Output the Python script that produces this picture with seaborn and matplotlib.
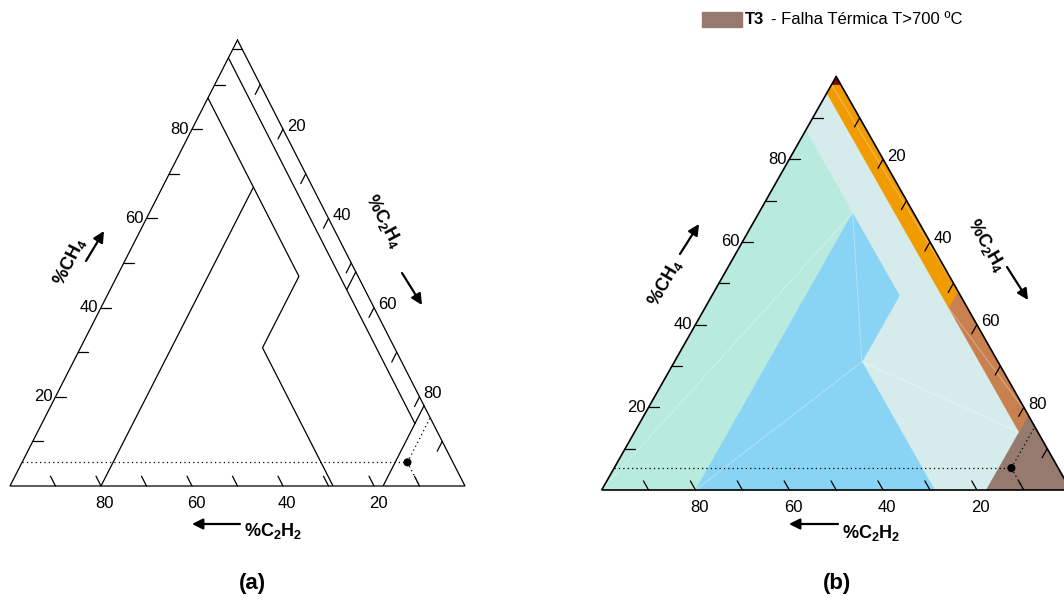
import matplotlib
matplotlib.use("Agg")
import matplotlib.pyplot as plt
import seaborn as sns
from matplotlib.patches import Rectangle

# ---------------- data (ternary %, order: CH4, C2H4, C2H2) ----------------
tick_values = [10, 20, 30, 40, 50, 60, 70, 80, 90]
label_values = [20, 40, 60, 80]

zone_PD = [(100, 0, 0), (98, 2, 0), (98, 0, 2)]
zone_T12 = [(98, 2, 0), (98, 0, 2), (96, 0, 4), (44, 52, 4), (48, 52, 0)]
zone_T3b = [(48, 52, 0), (44, 52, 4), (14, 82, 4), (18, 82, 0)]
zone_T3 = [(18, 82, 0), (0, 82, 18), (0, 100, 0)]
zone_D1 = [(0, 0, 100), (87, 0, 13), (67, 20, 13), (0, 20, 80)]
zone_D2 = [(0, 20, 80), (67, 20, 13), (47, 40, 13), (31, 40, 29), (0, 71, 29)]
zone_DT = [(96, 0, 4), (87, 0, 13), (47, 40, 13), (31, 40, 29), (0, 71, 29),
           (0, 82, 18), (14, 82, 4), (44, 52, 4)]

zone_colors = {"DT": "#D6ECEC", "D1": "#B8EADE", "D2": "#89D3F5",
               "T12": "#F09B00", "T3b": "#C8804F", "T3": "#967A6D", "PD": "#7A0A0A"}

boundary_lines = [
    [(98, 2, 0), (98, 0, 2)],
    [(96, 0, 4), (14, 82, 4)],
    [(48, 52, 0), (44, 52, 4)],
    [(18, 82, 0), (0, 82, 18)],
    [(87, 0, 13), (47, 40, 13), (31, 40, 29), (0, 71, 29)],
    [(67, 20, 13), (0, 20, 80)],
]

seams = [
    [(0, 0, 100), (67, 20, 13)],
    [(0, 20, 80), (31, 40, 29)],
    [(67, 20, 13), (31, 40, 29)],
    [(31, 40, 29), (14, 82, 4)],
    [(98, 0, 2), (48, 52, 0)],
    [(44, 52, 4), (18, 82, 0)],
]

sample_ch4 = 5.3
sample_c2h4 = 84.7
sample_c2h2 = 10.0

legend_label_bold = "T3"
legend_label_rest = "- Falha Térmica T>700 ºC"


# ---------------- helpers ----------------
def tern(pts):
    xs = [b + a / 2.0 for a, b, c in pts]
    ys = [a for a, b, c in pts]
    return xs, ys


def fpx(x, y):
    """reference pixel (top-left origin) -> figure fraction"""
    return (x / 1064.0, 1.0 - y / 601.0)


sns.set_theme(style="white")
plt.rcParams["font.family"] = ["Liberation Sans", "DejaVu Sans"]
plt.rcParams["mathtext.fontset"] = "custom"
plt.rcParams["mathtext.rm"] = "Liberation Sans"
plt.rcParams["mathtext.bf"] = "Liberation Sans:bold"
plt.rcParams["mathtext.it"] = "Liberation Sans:italic"
plt.rcParams["text.color"] = "black"

fig = plt.figure(figsize=(10.64, 6.01), dpi=100)
fig.patch.set_facecolor("white")

ax_a = fig.add_axes([10 / 1064, (601 - 486) / 601, 455 / 1064, 446 / 601])
ax_b = fig.add_axes([601.7 / 1064, (601 - 490) / 601, 469 / 1064, 413.5 / 601])

delta = 2.2
outline = [(100, 0, 0), (0, 0, 100), (0, 100, 0), (100, 0, 0)]
tick_fs = 12


def draw_frame(ax, lw_edge):
    ax.set_xlim(0, 100)
    ax.set_ylim(0, 100)
    ax.axis("off")
    x, y = tern(outline)
    ax.plot(x, y, color="black", lw=lw_edge, zorder=4, clip_on=False,
            solid_joinstyle="miter")
    for v in tick_values:
        for seg in ([(v, 0, 100 - v), (v, delta, 100 - v - delta)],
                    [(100 - v, v, 0), (100 - v - delta, v, delta)],
                    [(0, 100 - v, v), (delta, 100 - v - delta, v)]):
            sx, sy = tern(seg)
            ax.plot(sx, sy, color="black", lw=0.9, zorder=4, clip_on=False)
    for v in label_values:
        x, y = tern([(v, 0, 100 - v)])
        ax.annotate(str(v), (x[0], y[0]), xytext=(-3, 0), textcoords="offset pixels",
                    ha="right", va="center", fontsize=tick_fs, color="black",
                    annotation_clip=False)
        x, y = tern([(100 - v, v, 0)])
        ax.annotate(str(v), (x[0], y[0]), xytext=(4, 3), textcoords="offset pixels",
                    ha="left", va="center", fontsize=tick_fs, color="black",
                    annotation_clip=False)
        x, y = tern([(0, 100 - v, v)])
        ax.annotate(str(v), (x[0], y[0]), xytext=(4, -17), textcoords="offset pixels",
                    ha="center", va="center", fontsize=tick_fs, color="black",
                    annotation_clip=False)


def draw_sample(ax):
    p = (sample_ch4, sample_c2h4, sample_c2h2)
    guides = [
        [(sample_ch4, 0, 100 - sample_ch4), p],
        [p, (100 - sample_c2h4, sample_c2h4, 0)],
        [p, (0, 100 - sample_c2h2, sample_c2h2)],
    ]
    for g in guides:
        gx, gy = tern(g)
        ax.plot(gx, gy, color="black", lw=0.9, ls=(0, (1, 2.5)), zorder=5)
    px, py = tern([p])
    sns.scatterplot(x=px, y=py, ax=ax, color="black", s=34, edgecolor="none",
                    zorder=6, legend=False)
    ax.set_xlabel("")
    ax.set_ylabel("")


# ---------------- panel (a): line drawing ----------------
draw_frame(ax_a, 0.9)
for ln in boundary_lines:
    lx, ly = tern(ln)
    ax_a.plot(lx, ly, color="black", lw=0.9, zorder=3)
draw_sample(ax_a)
ax_a.axis("off")

# ---------------- panel (b): coloured zones ----------------
zones = [("DT", zone_DT), ("D1", zone_D1), ("D2", zone_D2), ("T12", zone_T12),
         ("T3b", zone_T3b), ("T3", zone_T3), ("PD", zone_PD)]
for name, poly in zones:
    zx, zy = tern(poly)
    ax_b.fill(zx, zy, color=zone_colors[name], lw=0.3, ec=zone_colors[name], zorder=1)
for s in seams:
    sx, sy = tern(s)
    ax_b.plot(sx, sy, color="white", lw=0.7, alpha=0.35, zorder=2)
draw_frame(ax_b, 1.2)
draw_sample(ax_b)
ax_b.axis("off")

# ---------------- axis titles with arrows ----------------
arrow_kw = dict(arrowstyle="-|>", lw=1.6, color="black", mutation_scale=16,
                shrinkA=0, shrinkB=0)
title_fs = 13


def titles(ch4_xy, ch4_rot, ch4_arrow, c2h4_xy, c2h4_rot, c2h4_arrow,
           c2h2_xy, c2h2_arrow, panel_xy, panel_txt):
    fig.text(*fpx(*ch4_xy), "%CH$_\\mathbf{4}$", rotation=ch4_rot, ha="center",
             va="center", fontsize=title_fs, fontweight="bold", rotation_mode="anchor")
    fig.text(*fpx(*c2h4_xy), "%C$_\\mathbf{2}$H$_\\mathbf{4}$", rotation=c2h4_rot,
             ha="center", va="center", fontsize=title_fs, fontweight="bold",
             rotation_mode="anchor")
    fig.text(*fpx(*c2h2_xy), "%C$_\\mathbf{2}$H$_\\mathbf{2}$", ha="left",
             va="center", fontsize=title_fs, fontweight="bold")
    for (t, h) in (ch4_arrow, c2h4_arrow, c2h2_arrow):
        fig.add_artist(matplotlib.patches.FancyArrowPatch(
            fpx(*t), fpx(*h), transform=fig.transFigure, **arrow_kw))
    fig.text(*fpx(*panel_xy), panel_txt, ha="center", va="center", fontsize=16,
             fontweight="bold")


titles((70, 262), 63, ((86, 261), (104, 231)),
       (384, 221), -62, ((402, 273), (422, 305)),
       (244, 531), ((240, 524), (192, 524)),
       (252, 583), "(a)")
titles((665, 283), 60, ((680, 254), (699, 224)),
       (986, 245), -60, ((1007, 267), (1028, 300)),
       (842, 533), ((838, 524), (789, 524)),
       (837, 583), "(b)")

# ---------------- legend swatch ----------------
fig.patches.append(Rectangle(fpx(702, 27), 40 / 1064, 15 / 601,
                             transform=fig.transFigure, color=zone_colors["T3"]))
fig.text(*fpx(745, 19.5), legend_label_bold, ha="left", va="center", fontsize=12,
         fontweight="bold")
fig.text(*fpx(771, 19.5), legend_label_rest, ha="left", va="center", fontsize=12)

fig.savefig("out.png", dpi=100, facecolor="white")
